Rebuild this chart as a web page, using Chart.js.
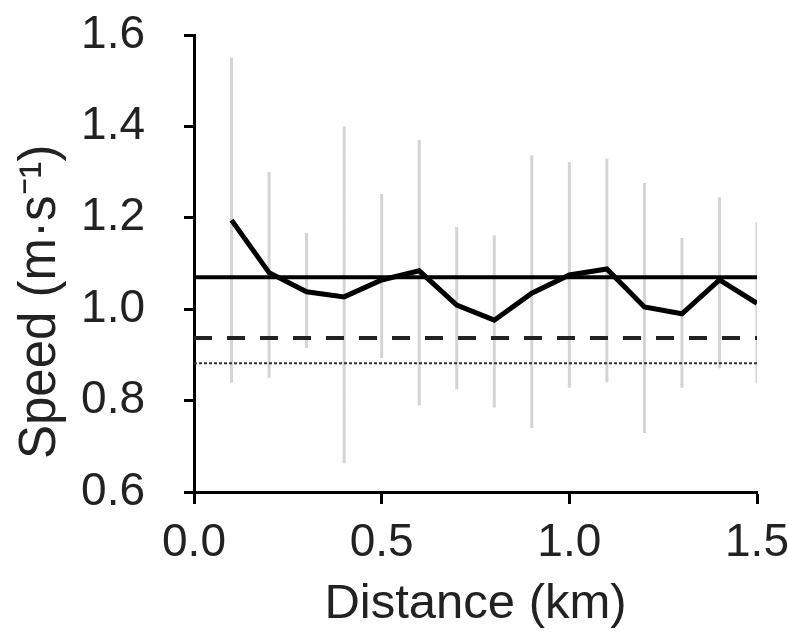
<!DOCTYPE html>
<html><head><meta charset="utf-8">
<script src="https://cdn.jsdelivr.net/npm/chart.js@4"></script>
<style>html,body{margin:0;padding:0;background:#fff}#wrap{width:789px;height:632px}</style>
</head><body><div id="wrap"><canvas id="c" width="789" height="632"></canvas></div>
<script>
const distances  = [0.1, 0.2, 0.3, 0.4, 0.5, 0.6, 0.7, 0.8, 0.9, 1.0, 1.1, 1.2, 1.3, 1.4, 1.5];
const speedMean  = [1.195, 1.08, 1.038, 1.027, 1.064, 1.084, 1.009, 0.976, 1.035, 1.075, 1.088, 1.005, 0.99, 1.064, 1.013];
const speedUpper = [1.55, 1.30, 1.167, 1.40, 1.252, 1.37, 1.18, 1.162, 1.337, 1.322, 1.33, 1.276, 1.156, 1.245, 1.19];
const speedLower = [0.839, 0.85, 0.915, 0.663, 0.893, 0.79, 0.825, 0.785, 0.74, 0.828, 0.84, 0.729, 0.828, 0.871, 0.838];
const refSolid  = 1.07;
const refDashed = 0.937;
const refDotted = 0.882;
const xRange = [0, 1.5];
const xTicks = [0, 0.5, 1.0, 1.5];
const yTicks = [0.6, 0.8, 1.0, 1.2, 1.4, 1.6];

const errData = [];
distances.forEach((d, i) => {
  errData.push({x: d, y: speedLower[i]}, {x: d, y: speedUpper[i]}, {x: d, y: null});
});
const hline = v => xRange.map(x => ({x, y: v}));

const font = {family: "'Liberation Sans', Arial, sans-serif", size: 46};
new Chart(document.getElementById('c'), {
  type: 'line',
  data: {
    datasets: [
      {data: distances.map((d, i) => ({x: d, y: speedMean[i]})), borderColor: '#000', borderWidth: 5, pointRadius: 0, order: 1, tension: 0},
      {data: hline(refSolid), borderColor: '#000', borderWidth: 4, pointRadius: 0, order: 2},
      {data: hline(refDashed), borderColor: '#222', borderWidth: 4, borderDash: [18, 15], pointRadius: 0, order: 3},
      {data: hline(refDotted), borderColor: '#333', borderWidth: 2, borderDash: [3, 2], pointRadius: 0, order: 4},
      {data: errData, borderColor: '#d4d4d4', borderWidth: 3, pointRadius: 0, spanGaps: false, order: 10}
    ]
  },
  options: {
    responsive: false,
    animation: false,
    layout: {padding: {top: 35, right: 32, left: 0, bottom: 0}},
    plugins: {legend: {display: false}, tooltip: {enabled: false}},
    scales: {
      x: {
        type: 'linear', min: xRange[0], max: xRange[1],
        afterBuildTicks: s => { s.ticks = xTicks.map(v => ({value: v})); },
        afterFit: s => { s.height = 140; s.paddingLeft = 0; s.paddingRight = 0; },
        grid: {drawOnChartArea: false, drawTicks: true, tickLength: 12, tickColor: '#000', tickWidth: 3},
        border: {display: true, color: '#000', width: 3},
        ticks: {color: '#222', font, padding: 12, maxRotation: 0, callback: v => Number(v).toFixed(1)},
        title: {display: true, text: 'Distance (km)', color: '#222', font: {family: font.family, size: 49}, padding: {top: 0, bottom: -2}}
      },
      y: {
        min: 0.6, max: 1.6,
        afterBuildTicks: s => { s.ticks = yTicks.map(v => ({value: v})); },
        afterFit: s => { s.width = 194; s.paddingTop = 0; s.paddingBottom = 0; },
        grid: {drawOnChartArea: false, drawTicks: true, tickLength: 10, tickColor: '#000', tickWidth: 3},
        border: {display: true, color: '#000', width: 3},
        ticks: {color: '#222', font, padding: 39, callback: v => Number(v).toFixed(1)},
        title: {display: true, text: 'Speed (m·s⁻¹)\u2003\u2002', color: '#222', font: {family: font.family, size: 51}, padding: {top: 10, bottom: 0}}
      }
    }
  }
});
</script></body></html>
